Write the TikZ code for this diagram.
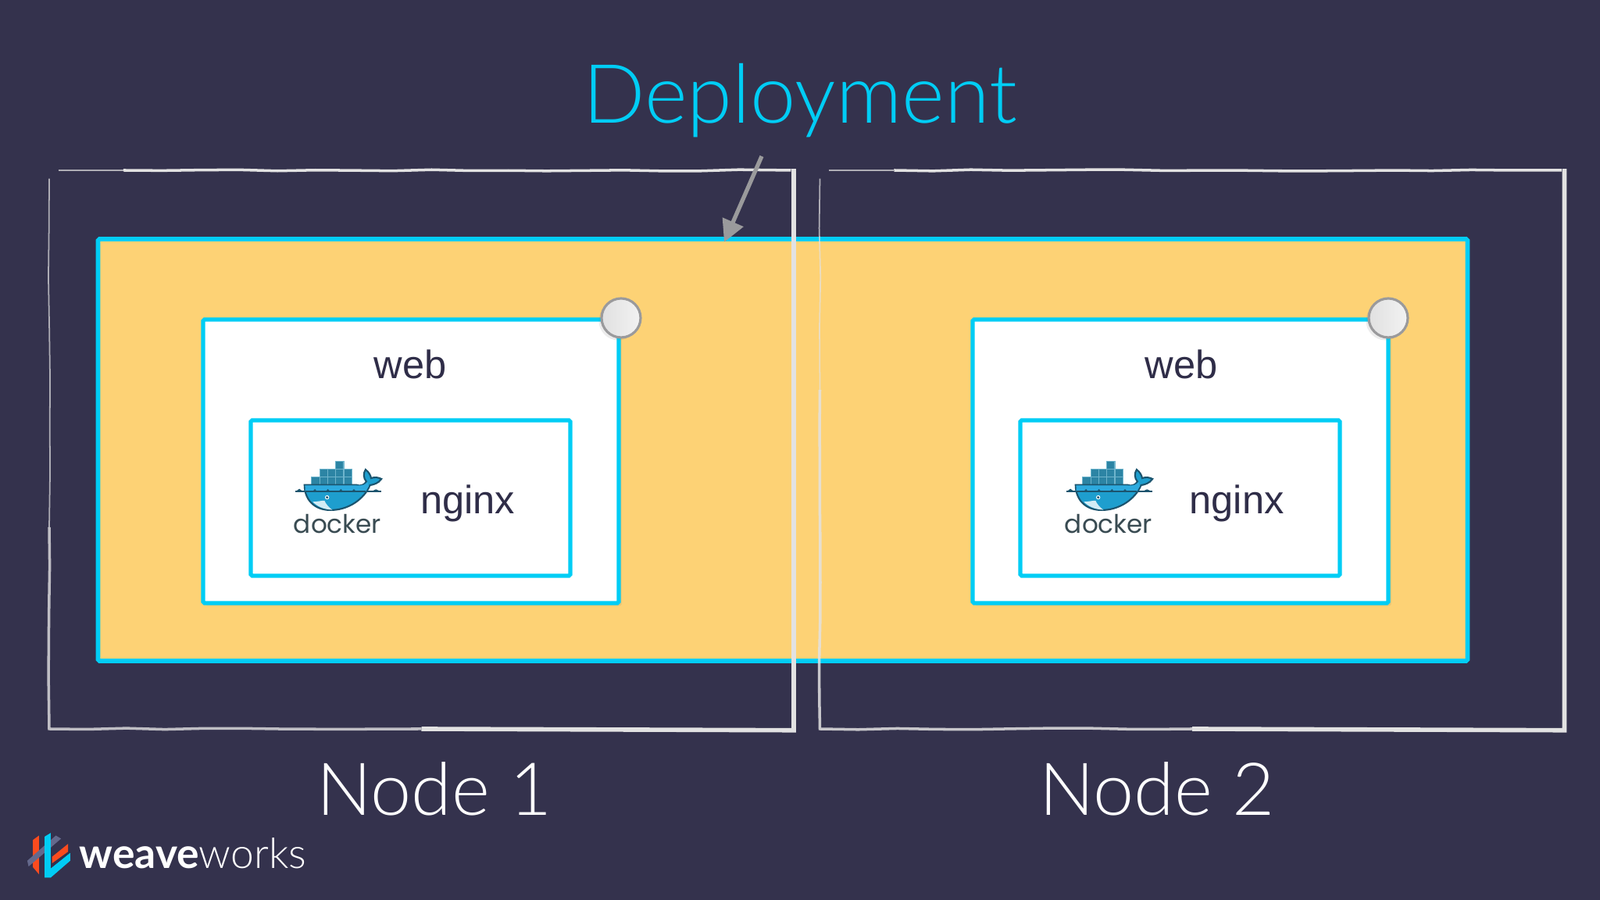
\documentclass[tikz,border=0pt]{standalone}
\usepackage{fontspec}
\setmainfont{Lato}[UprightFont=* Light, BoldFont=* Bold]
\newfontfamily\dockerfont{Poppins}
\newfontfamily\labelfont{Liberation Sans}
\usetikzlibrary{arrows.meta,decorations.pathmorphing,shadows}
\definecolor{canvas}{RGB}{52, 50, 77}
\definecolor{cyan}{RGB}{0, 205, 245}
\definecolor{sand}{RGB}{253, 210, 117}
\definecolor{ink}{RGB}{47, 45, 72}
\definecolor{chalk}{RGB}{226, 226, 226}
\definecolor{pointer}{RGB}{154, 154, 156}
\definecolor{hull}{RGB}{30, 158, 206}
\definecolor{hullband}{RGB}{45, 170, 222}
\definecolor{hullline}{RGB}{27, 84, 110}
\definecolor{crate}{RGB}{44, 132, 164}
\definecolor{crateline}{RGB}{110, 180, 204}
\definecolor{dockerink}{RGB}{57, 75, 82}
\definecolor{weaveorange}{RGB}{250, 75, 30}
\definecolor{weavegrey}{RGB}{100, 105, 140}

\tikzset{
  dockerlogo/.pic={
    \begin{scope}[x=0.00333cm, y=-0.00333cm, shift={(-220,-170)}]
      \foreach \cx in {117,148,179,210,241}
        \draw[crateline, fill=crate, line width=0.3pt] (\cx,90) rectangle ++(31,30);
      \foreach \cx in {148,179,210,241}
        \draw[crateline, fill=crate, line width=0.3pt] (\cx,60) rectangle ++(31,30);
      \draw[crateline, fill=crate, line width=0.3pt] (210,30) rectangle ++(31,30);
      \draw[hullline, line width=0.5pt] (55,147) -- (385,147);
      \fill[hullline] (55,147) -- (70,136) -- (85,147) -- cycle;
      \fill[hullline] (345,147) -- (365,138) -- (385,147) -- cycle;
      \draw[hullline, fill=hull, line width=0.6pt]
        (90,121) -- (290,121) .. controls (305,128) and (322,120) .. (328,108)
        .. controls (316,95) and (316,75) .. (325,62)
        .. controls (338,72) and (345,85) .. (346,95)
        .. controls (360,90) and (375,92) .. (386,98)
        .. controls (375,115) and (355,120) .. (342,122)
        .. controls (320,175) and (260,218) .. (190,218)
        .. controls (125,218) and (90,175) .. (90,121) -- cycle;
      \fill[hullband] (92,123) -- (300,123) .. controls (315,124) and (325,118) .. (332,110)
        -- (338,124) -- (326,146) -- (93,146) -- cycle;
      \foreach \cx in {130,180,230,280}
        \fill[hullline] (\cx-18,147) .. controls (\cx-6,145) .. (\cx,137) .. controls (\cx+6,145) .. (\cx+18,147) -- cycle;
      \draw[hullline, line width=0.6pt] (93,147) -- (326,147);
      \fill[white!80!hull] (122,186) .. controls (140,186) and (160,180) .. (167,182)
        .. controls (172,195) and (185,208) .. (197,217)
        .. controls (165,215) and (140,205) .. (122,186) -- cycle;
      \fill[white] (177,169) circle[radius=8];
      \fill[hullline] (177,169) circle[radius=5];
      \node[text=dockerink, font=\dockerfont\fontsize{9.3pt}{12pt}\selectfont] (word) at (217,272) {docker};
    \end{scope}
  }
}

\begin{document}
\begin{tikzpicture}
  [
    frame/.style={minimum width=9.53cm, minimum height=7.15cm, inner sep=0pt, outer sep=0pt},
    faint/.style={chalk, opacity=0.7, line width=0.5pt, decorate, decoration={random steps, segment length=18pt, amplitude=0.3pt}},
    medium/.style={chalk, line width=1pt, decorate, decoration={random steps, segment length=14pt, amplitude=0.25pt}},
    heavy/.style={chalk, line width=1.6pt},
    deploy/.style={draw=cyan, line width=1.6pt, fill=sand, rounded corners=0.5pt, minimum width=17.53cm, minimum height=5.40cm, outer sep=0pt},
    web/.style={draw=cyan, line width=1.5pt, fill=white, rounded corners=0.5pt, minimum width=5.32cm, minimum height=3.63cm, outer sep=0pt, drop shadow={shadow xshift=1pt, shadow yshift=-1pt, opacity=0.15}},
    nginx/.style={draw=cyan, line width=1.5pt, fill=white, rounded corners=0.5pt, minimum width=4.09cm, minimum height=1.99cm, outer sep=0pt},
    handle/.style={circle, draw=pointer, line width=0.9pt, left color=black!12, right color=black!5, minimum size=0.5cm, inner sep=0pt, drop shadow={shadow xshift=-1pt, shadow yshift=-1pt, opacity=0.15}},
    inner/.style={text=ink, font=\labelfont\fontsize{14.4pt}{16pt}\selectfont},
    host/.style={text=white, font=\fontsize{26.6pt}{30pt}\selectfont},
    flow/.style={pointer, line width=1.5pt, -{Triangle[length=8pt, width=8pt]}}
  ]
  \fill[canvas] (0, 0) rectangle (20.48, 11.52);

  \node[deploy] (rs) at (10.02, 5.76) {};

  \node[web] (webA) at (5.26, 5.615) {};
  \node[web] (webB) at (15.11, 5.615) {};
  \node[nginx] (nginxA) at (5.255, 5.145) {};
  \node[nginx] (nginxB) at (15.105, 5.145) {};
  \node[handle] (handleA) at (7.95, 7.45) {};
  \node[handle] (handleB) at (17.77, 7.45) {};

  \node[inner] (labelA) at (5.25, 6.86) {web};
  \node[inner] (labelB) at (15.12, 6.86) {web};
  \node[inner] (appA) at (5.985, 5.08) {nginx};
  \node[inner] (appB) at (15.83, 5.08) {nginx};

  \pic (logoA) at (4.33, 5.15) {dockerlogo};
  \pic (logoB) at (14.2, 5.15) {dockerlogo};

  % the two hosts, sides sketched one by one
  \node[frame] (hostA) at (5.395, 5.765) {};
  \node[frame] (hostB) at (15.26, 5.765) {};
  \foreach \h in {hostA, hostB} {
    \draw[faint] ([xshift=3.4pt]\h.north west) -- ([xshift=27pt]\h.north west);
    \draw[medium] ([xshift=27pt]\h.north west) -- ([xshift=-1pt]\h.north east);
    \draw[heavy] ([yshift=0.5pt]\h.north east) -- ([yshift=-0.5pt]\h.south east) -- (\h.south);
  }
  \draw[faint] ([yshift=-3pt]hostA.north west) -- ([yshift=-130pt]hostA.north west);
  \draw[medium, opacity=0.8] ([yshift=-130pt]hostA.north west) -- (hostA.south west) -- (hostA.south);
  \draw[faint] ([yshift=-3pt]hostB.north west) -- ([yshift=-80pt]hostB.north west);
  \draw[medium, opacity=0.85] ([yshift=-80pt]hostB.north west) -- (hostB.south west) -- (hostB.south);

  \node[text=cyan, font=\fontsize{29.8pt}{32pt}\selectfont] (title) at (10.24, 10.235) {Deployment};
  \node[host] (nameA) at (5.56, 1.42) {Node 1};
  \node[host] (nameB) at (14.81, 1.42) {Node 2};

  \coordinate (from) at (9.75, 9.52);
  \coordinate (to) at (9.27, 8.42);
  \draw[flow] (from) -- (to);

  % brand in the corner
  \begin{scope}[x=0.00333cm, y=-0.00333cm, shift={(0,-336)}]
    \fill[weaveorange] (127,105) -- (150,88) -- (150,237) -- (127,210) -- cycle;
    \fill[weavegrey] (105,185) -- (215,88) -- (235,100) -- (110,207) -- cycle;
    \fill[weaveorange] (200,170) -- (262,120) -- (262,150) -- (200,195) -- cycle;
    \fill[cyan] (172,92) -- (195,78) -- (195,215) -- (270,155) -- (270,185) -- (195,250) -- (172,250) -- cycle;
  \end{scope}
  \node[text=white, anchor=west, inner sep=0pt, font=\fontsize{15.2pt}{17pt}\selectfont] (brand) at (1.01, 0.6) {\textbf{weave}works};
\end{tikzpicture}
\end{document}
